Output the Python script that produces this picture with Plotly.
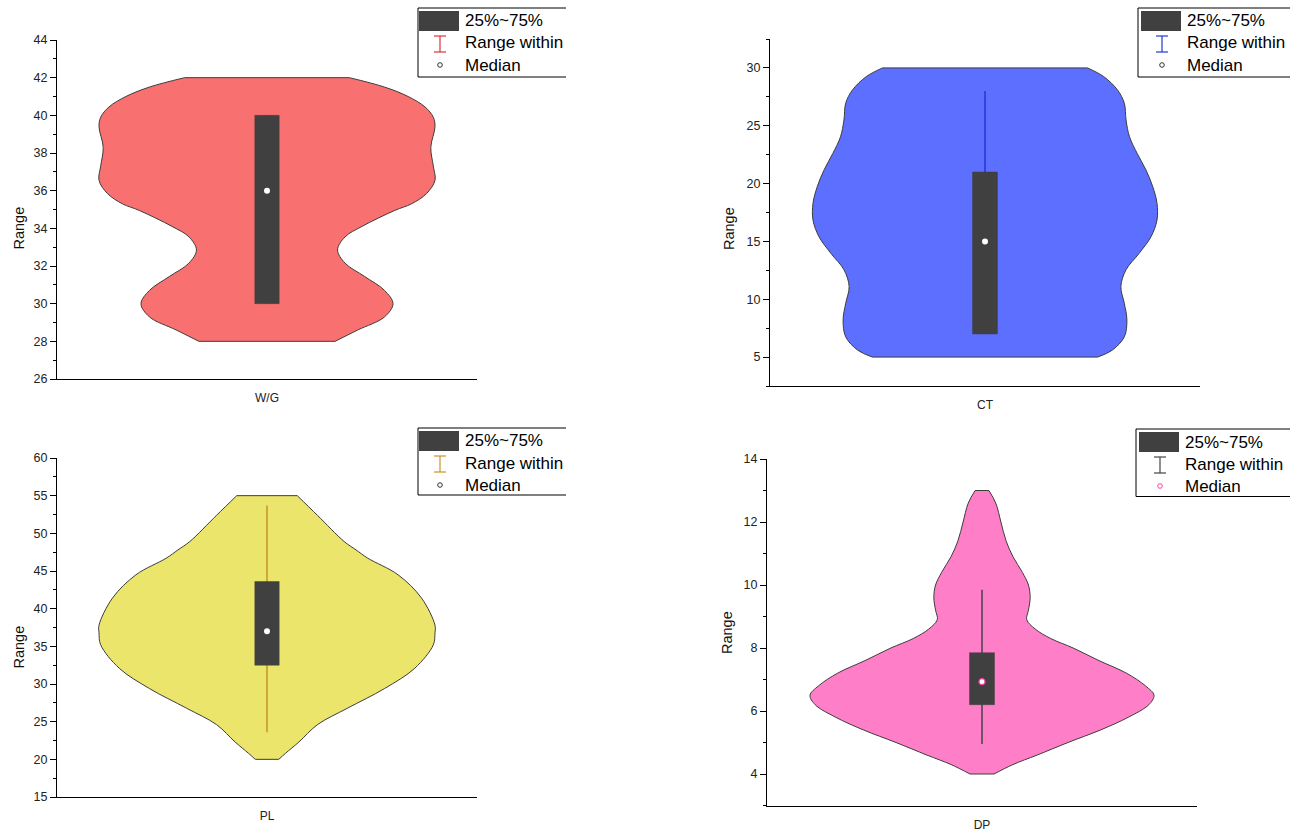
import plotly.graph_objects as go

W, H = 1301, 832
FONT = "Arial, 'Liberation Sans', sans-serif"

# ---- data -------------------------------------------------------------
categories = ["W/G", "CT", "PL", "DP"]

# violin outlines: value levels (top -> bottom) and relative density at each level
wg_levels = [42.0, 41.5, 41.0, 40.45, 39.9, 39.4, 38.3, 37.3, 36.55, 35.85, 35.3,
             34.95, 34.1, 33.55, 32.85, 32.15, 31.45, 30.7, 30.0, 29.3, 28.6, 28.0]
wg_density = [0.49, 0.70, 0.84, 0.94, 0.99, 1.0, 0.975, 0.99, 1.0, 0.95, 0.86,
              0.76, 0.565, 0.465, 0.42, 0.465, 0.58, 0.70, 0.75, 0.70, 0.54, 0.405]

ct_levels = [30.0, 29.25, 28.1, 26.95, 25.5, 24.05, 22.6, 21.2, 19.75, 18.3, 16.85,
             15.4, 13.95, 12.55, 11.1, 9.65, 8.2, 6.75, 5.6, 5.0]
ct_density = [0.596, 0.69, 0.77, 0.81, 0.82, 0.84, 0.885, 0.935, 0.975, 1.0, 1.0,
              0.965, 0.895, 0.82, 0.79, 0.81, 0.825, 0.81, 0.74, 0.655]

pl_levels = [55.0, 52.4, 48.9, 47.8, 46.7, 44.5, 41.4, 37.8, 36.8, 35.2, 32.1,
             29.4, 26.8, 24.6, 22.3, 20.8, 20.0]
pl_density = [0.18, 0.30, 0.46, 0.53, 0.60, 0.78, 0.92, 1.0, 1.0, 0.99, 0.88,
              0.70, 0.48, 0.30, 0.19, 0.11, 0.07]

dp_levels = [13.0, 12.6, 12.0, 11.4, 10.9, 10.4, 10.0, 9.6, 9.2, 8.9, 8.6, 8.3,
             8.0, 7.6, 7.2, 6.8, 6.5, 6.2, 5.8, 5.4, 5.0, 4.6, 4.3, 4.0]
dp_density = [0.04, 0.08, 0.11, 0.14, 0.18, 0.235, 0.27, 0.28, 0.27, 0.26, 0.31, 0.40,
              0.53, 0.68, 0.84, 0.95, 1.0, 0.97, 0.85, 0.69, 0.50, 0.32, 0.18, 0.07]

levels = [wg_levels, ct_levels, pl_levels, dp_levels]
densities = [wg_density, ct_density, pl_density, dp_density]

# box statistics
q1 = [30.0, 7.0, 32.5, 6.2]
median = [36.0, 15.0, 37.0, 6.93]
q3 = [40.0, 21.0, 43.6, 7.85]
whisker_low = [30.0, 7.0, 23.6, 4.95]
whisker_high = [40.0, 28.0, 53.7, 9.85]

# ---- styling ----------------------------------------------------------
fill_colors = ["#F97070", "#5C6FFF", "#ECE56C", "#FF7EC8"]
whisker_colors = ["#D8323C", "#2236D4", "#C8922A", "#454545"]
median_edges = ["#FFFFFF", "#FFFFFF", "#FFFFFF", "#FF3FA8"]
legend_median_edges = ["#333333", "#333333", "#333333", "#FF3FA8"]
outline = "#3C3C3C"
box_color = "#404040"
half_width = 0.8     # max violin half-width in x-axis units (axis spans -1..1)
box_half = 0.058

# pixel layout of each panel: (x0, x1, y_top, y_bottom, y_range, dtick, minor_dtick)
panels = [
    (57, 477, 40, 379, [26, 44], 2, 1),
    (770, 1200, 39, 386, [2.5, 32.5], 5, 2.5),
    (57, 477, 458, 797, [15, 60], 5, 2.5),
    (767, 1197, 459, 805.5, [3, 14], 2, 1),
]
ytitle_pos = [(18.5, 228), (729, 228), (18.5, 647), (727, 632)]
legend_boxes = [  # left, top, bottom, right
    (418, 8, 77, 566),
    (1138, 8, 77, 1290),
    (418, 428, 495, 566),
    (1136, 429, 496.5, 1290),
]


def px(x):
    return x / W


def py(y):
    return 1 - y / H


fig = go.Figure()
layout = {}
shapes = []
annotations = []
side_line = dict(color=outline, width=1, shape="spline", smoothing=1.0)

for i, cat in enumerate(categories):
    n = "" if i == 0 else str(i + 1)
    xa, ya = "x" + n, "y" + n
    x0, x1, yt, yb, yr, dt, mdt = panels[i]

    # violin body: left and right sides as smooth curves, filled between them
    lv = levels[i]
    dn = densities[i]
    left = [-half_width * d for d in dn]
    right = [half_width * d for d in dn]
    fig.add_trace(go.Scatter(
        x=left, y=lv, xaxis=xa, yaxis=ya, mode="lines", line=side_line,
        hoverinfo="skip", showlegend=False))
    fig.add_trace(go.Scatter(
        x=right, y=lv, xaxis=xa, yaxis=ya, mode="lines", line=side_line,
        fill="tonextx", fillcolor=fill_colors[i], hoverinfo="skip", showlegend=False))
    # flat ends at the data extremes
    fig.add_trace(go.Scatter(
        x=[left[0], right[0], None, left[-1], right[-1]],
        y=[lv[0], lv[0], None, lv[-1], lv[-1]], xaxis=xa, yaxis=ya, mode="lines",
        line=dict(color=outline, width=1), hoverinfo="skip", showlegend=False))

    # whisker
    fig.add_trace(go.Scatter(
        x=[0, 0], y=[whisker_low[i], whisker_high[i]], xaxis=xa, yaxis=ya, mode="lines",
        line=dict(color=whisker_colors[i], width=1.5), hoverinfo="skip", showlegend=False))

    # interquartile box
    fig.add_trace(go.Scatter(
        x=[-box_half, box_half, box_half, -box_half, -box_half],
        y=[q1[i], q1[i], q3[i], q3[i], q1[i]], xaxis=xa, yaxis=ya, mode="lines",
        fill="toself", fillcolor=box_color, line=dict(color=box_color, width=0.5),
        hoverinfo="skip", showlegend=False))

    # median
    fig.add_trace(go.Scatter(
        x=[0], y=[median[i]], xaxis=xa, yaxis=ya, mode="markers",
        marker=dict(color="white", size=6, line=dict(color=median_edges[i], width=1.2 if i == 3 else 0)),
        hoverinfo="skip", showlegend=False))

    layout["xaxis" + n] = dict(
        domain=[px(x0), px(x1)], anchor=ya, range=[-1, 1], tickvals=[0], ticktext=[cat],
        ticks="", ticklabelstandoff=8, showgrid=False, zeroline=False, showline=True,
        linecolor="black", linewidth=1, tickfont=dict(family=FONT, size=12, color="#222"),
        automargin=False, fixedrange=True)
    layout["yaxis" + n] = dict(
        domain=[py(yb), py(yt)], anchor=xa, range=yr, dtick=dt, tick0=0, ticks="outside",
        ticklen=6, tickwidth=1, tickcolor="black", showgrid=False, zeroline=False,
        showline=True, linecolor="black", linewidth=1,
        tickfont=dict(family=FONT, size=12.5, color="#222"),
        minor=dict(dtick=mdt, tick0=0, ticks="outside", ticklen=3, tickcolor="black", showgrid=False),
        automargin=False, fixedrange=True)

    tx, ty = ytitle_pos[i]
    annotations.append(dict(
        x=px(tx), y=py(ty), xref="paper", yref="paper", text="Range", showarrow=False,
        textangle=-90, font=dict(family=FONT, size=14.5, color="#111"),
        xanchor="center", yanchor="middle"))

    # legend block
    lx, ltop, lbot, lright = legend_boxes[i]
    line_k = dict(color="black", width=1)
    shapes += [
        dict(type="line", xref="paper", yref="paper", x0=px(lx), x1=px(lright), y0=py(ltop), y1=py(ltop), line=line_k),
        dict(type="line", xref="paper", yref="paper", x0=px(lx), x1=px(lright), y0=py(lbot), y1=py(lbot), line=line_k),
        dict(type="line", xref="paper", yref="paper", x0=px(lx), x1=px(lx), y0=py(ltop), y1=py(lbot), line=line_k),
    ]
    sw_x0 = lx + (1 if i in (0, 2) else 3)
    shapes.append(dict(type="rect", xref="paper", yref="paper",
                       x0=px(sw_x0), x1=px(sw_x0 + 40), y0=py(ltop + 3), y1=py(ltop + 23),
                       fillcolor=box_color, line=dict(width=0)))
    cx = sw_x0 + 21
    wt, wb = ltop + 28, ltop + 44
    wc = dict(color=whisker_colors[i], width=1.2)
    shapes += [
        dict(type="line", xref="paper", yref="paper", x0=px(cx), x1=px(cx), y0=py(wt), y1=py(wb), line=wc),
        dict(type="line", xref="paper", yref="paper", x0=px(cx - 6), x1=px(cx + 6), y0=py(wt), y1=py(wt), line=wc),
        dict(type="line", xref="paper", yref="paper", x0=px(cx - 6), x1=px(cx + 6), y0=py(wb), y1=py(wb), line=wc),
        dict(type="circle", xref="paper", yref="paper", x0=px(cx - 2.3), x1=px(cx + 2.3),
             y0=py(ltop + 59.3), y1=py(ltop + 54.7), fillcolor="white",
             line=dict(color=legend_median_edges[i], width=1)),
    ]
    tx0 = sw_x0 + 44
    for txt, dy in (("25%~75%", 13), ("Range within", 35), ("Median", 57)):
        annotations.append(dict(
            x=px(tx0), y=py(ltop + dy), xref="paper", yref="paper", text=txt, showarrow=False,
            xanchor="left", yanchor="middle", font=dict(family=FONT, size=17, color="black")))

fig.update_layout(
    width=W, height=H, margin=dict(l=0, r=0, t=0, b=0, autoexpand=False),
    paper_bgcolor="white", plot_bgcolor="white", showlegend=False,
    shapes=shapes, annotations=annotations, **layout)

fig.write_html("out.html")
